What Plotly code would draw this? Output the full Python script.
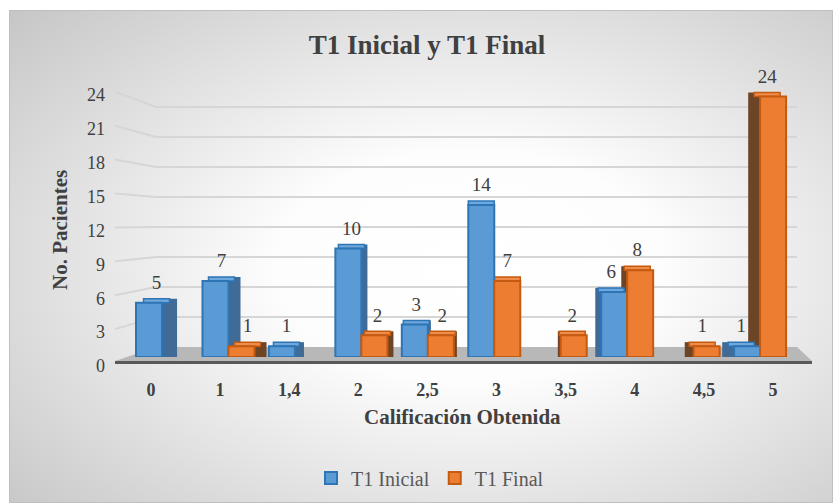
import base64
import plotly.graph_objects as go

# ---------------- data ----------------
categories = ['0', '1', '1,4', '2', '2,5', '3', '3,5', '4', '4,5', '5']
t1_inicial = [5, 7, 1, 10, 3, 14, None, 6, None, 1]
t1_final = [None, 1, None, 2, 2, 7, 2, 8, 1, 24]
y_ticks = [0, 3, 6, 9, 12, 15, 18, 21, 24]

title_text = 'T1 Inicial y T1 Final'
x_title = 'Calificación Obtenida'
y_title = 'No. Pacientes'

# ---------------- geometry helpers (pixels -> paper) ----------------
W, H = 833, 503


def px(x):
    return x / W


def py(y):
    return 1 - y / H


FONT = 'Liberation Serif, Times New Roman, serif'
TXT = '#404040'

# label axes (front plane)
LBL_Y0, LBL_PX_PER_UNIT = 366.0, 11.3
XL_LEFT, XL_RIGHT = 116.4, 807.6
# bar axes (mid depth)
BAR_Y0, BAR_PX_PER_UNIT = 357.0, 10.85
X2_LEFT, X2_RIGHT = 128.8, 793.3
N = len(categories)
UNIT = (X2_RIGHT - X2_LEFT) / N
BAR_W = 26.0 / UNIT
TOP_H = 4.0 / BAR_PX_PER_UNIT
LABEL_LIFT = 18.5
VP = 496.0
# back wall
BACK_Y0, BACK_PX_PER_UNIT = 347.0, 10.0
BACK_LEFT, BACK_RIGHT = 156.0, 797.0
FRONT_LEFT = 115.0

fig = go.Figure()

# helper invisible trace for the label subplot
fig.add_trace(go.Scatter(x=categories, y=[0] * N, mode='markers',
                         marker=dict(opacity=0), hoverinfo='skip', showlegend=False,
                         xaxis='x', yaxis='y'))

# 3D geometry per category (depth shift toward/away from the vanishing point)
shift = []
for i in range(N):
    xc = X2_LEFT + (i + 0.5) * UNIT
    d = 0.045 * abs(xc - VP) / UNIT
    shift.append(d if xc < VP else -d)

series = [
    dict(name='T1 Inicial', vals=t1_inicial, off=-BAR_W, face='#5B9BD5', edge='#2E75B6',
         side='#3f6b96', top='#6fa8dc'),
    dict(name='T1 Final', vals=t1_final, off=0.0, face='#ED7D31', edge='#C55A11',
         side='#6e4426', top='#f08c4a'),
]

# side faces
for s in series:
    offs, wids = [], []
    for i in range(N):
        d = shift[i]
        if d >= 0:
            offs.append(s['off'] + BAR_W)
        else:
            offs.append(s['off'] + d)
        wids.append(abs(d))
    fig.add_trace(go.Bar(x=categories, y=[None if v is None else v + TOP_H for v in s['vals']],
                         offset=offs, width=wids,
                         marker=dict(color=s['side'], line=dict(width=0)),
                         hoverinfo='skip', showlegend=False, xaxis='x2', yaxis='y2'))
# top faces
for s in series:
    fig.add_trace(go.Bar(x=categories, y=[None if v is None else TOP_H for v in s['vals']],
                         base=[None if v is None else v for v in s['vals']],
                         offset=[s['off'] + d / 2 for d in shift], width=BAR_W,
                         marker=dict(color=s['top'], line=dict(color=s['edge'], width=1.5)),
                         hoverinfo='skip', showlegend=False, xaxis='x2', yaxis='y2'))
# front faces
for s in series:
    fig.add_trace(go.Bar(name=s['name'], x=categories, y=s['vals'], offset=s['off'], width=BAR_W,
                         marker=dict(color=s['face'], line=dict(color=s['edge'], width=2)),
                         xaxis='x2', yaxis='y2'))
# value labels
for s in series:
    xs = [i + s['off'] + BAR_W / 2 + shift[i] / 2 for i in range(N)]
    fig.add_trace(go.Scatter(x=xs, y=s['vals'], mode='text',
                             text=['' if v is None else str(v) for v in s['vals']],
                             textposition='middle center', cliponaxis=False,
                             textfont=dict(family=FONT, size=19, color=TXT),
                             hoverinfo='skip', showlegend=False, xaxis='x3', yaxis='y3'))

# ---------------- decorations ----------------
shapes = []
for v in y_ticks[1:]:
    ly = LBL_Y0 - LBL_PX_PER_UNIT * v - 3
    by = BACK_Y0 - BACK_PX_PER_UNIT * v
    shapes.append(dict(type='path', xref='paper', yref='paper', layer='below',
                       path=f'M {px(FRONT_LEFT)},{py(ly)} L {px(BACK_LEFT)},{py(by)} L {px(BACK_RIGHT)},{py(by)}',
                       line=dict(color='#d6d6d6', width=2)))
fy_front = LBL_Y0 - 5
shapes.append(dict(type='path', xref='paper', yref='paper', layer='below',
                   path=(f'M {px(BACK_LEFT)},{py(BACK_Y0)} L {px(BACK_RIGHT)},{py(BACK_Y0)} '
                         f'L {px(812)},{py(fy_front)} L {px(FRONT_LEFT)},{py(fy_front)} Z'),
                   fillcolor='#b8b8b8', line=dict(width=0)))
shapes.append(dict(type='line', xref='paper', yref='paper', layer='below',
                   x0=px(FRONT_LEFT), x1=px(812), y0=py(fy_front + 1.5), y1=py(fy_front + 1.5),
                   line=dict(color='#595959', width=3)))
shapes.append(dict(type='rect', xref='paper', yref='paper', layer='below',
                   x0=px(9.5), x1=px(832.5), y0=py(502.5), y1=py(10.5),
                   line=dict(color='#bfbfbf', width=1)))

svg = ('<svg xmlns="http://www.w3.org/2000/svg" width="824" height="493" viewBox="0 0 824 493" '
       'preserveAspectRatio="none"><defs><radialGradient id="g" cx="0.56" cy="0.52" r="0.78">'
       '<stop offset="0" stop-color="#ffffff"/><stop offset="0.3" stop-color="#fdfdfd"/>'
       '<stop offset="1" stop-color="#c4c4c4"/></radialGradient></defs>'
       '<rect x="0" y="0" width="824" height="493" fill="url(#g)"/></svg>')
svg_uri = 'data:image/svg+xml;base64,' + base64.b64encode(svg.encode()).decode()

bar_dom = [py(BAR_Y0), py(BAR_Y0 - 25 * BAR_PX_PER_UNIT)]
lift = LABEL_LIFT / H

fig.update_layout(
    width=W, height=H, autosize=False,
    margin=dict(l=0, r=0, t=0, b=0, autoexpand=False),
    paper_bgcolor='white', plot_bgcolor='rgba(0,0,0,0)',
    barmode='overlay',
    images=[dict(source=svg_uri, xref='paper', yref='paper', x=px(9), y=py(10),
                 sizex=px(W - 9), sizey=(H - 10) / H, sizing='stretch',
                 xanchor='left', yanchor='top', layer='below')],
    shapes=shapes,
    title=dict(text=title_text, x=px(427), xanchor='center', y=py(45), yanchor='middle',
               xref='paper', yref='paper',
               font=dict(family=FONT, size=27, color=TXT, weight='bold')),
    xaxis=dict(domain=[px(XL_LEFT), px(XL_RIGHT)], type='category', categoryorder='array',
               categoryarray=categories, range=[-0.5, N - 0.5],
               anchor='free', position=py(377), showgrid=False, zeroline=False, showline=False,
               ticks='', tickfont=dict(family=FONT, size=18, color=TXT, weight='bold'),
               fixedrange=True),
    yaxis=dict(domain=[py(LBL_Y0), py(LBL_Y0 - 24 * LBL_PX_PER_UNIT)], range=[0, 24],
               tickvals=y_ticks, anchor='free', position=px(105), showgrid=False,
               zeroline=False, showline=False, ticks='',
               tickfont=dict(family=FONT, size=18, color=TXT), fixedrange=True),
    xaxis2=dict(domain=[px(X2_LEFT), px(X2_RIGHT)], type='category', categoryorder='array',
                categoryarray=categories, range=[-0.5, N - 0.5],
                anchor='y2', visible=False, fixedrange=True),
    yaxis2=dict(domain=bar_dom, range=[0, 25], anchor='x2', visible=False, fixedrange=True),
    xaxis3=dict(domain=[px(X2_LEFT), px(X2_RIGHT)], type='linear', range=[-0.5, N - 0.5],
                anchor='y3', visible=False, fixedrange=True),
    yaxis3=dict(domain=[bar_dom[0] + lift, bar_dom[1] + lift], range=[0, 25],
                anchor='x3', visible=False, fixedrange=True),
    legend=dict(orientation='h', x=px(430), xanchor='center', y=py(478), yanchor='middle',
                font=dict(family=FONT, size=20, color='#595959'), bgcolor='rgba(0,0,0,0)',
                traceorder='normal'),
    annotations=[
        dict(text=y_title, x=px(60), y=py(230), xref='paper', yref='paper', showarrow=False,
             xanchor='center', yanchor='middle', textangle=-90,
             font=dict(family=FONT, size=21, color=TXT, weight='bold')),
        dict(text=x_title, x=px(462), y=py(417), xref='paper', yref='paper', showarrow=False,
             xanchor='center', yanchor='middle',
             font=dict(family=FONT, size=21, color=TXT, weight='bold')),
    ],
)

fig.write_html('out.html')
